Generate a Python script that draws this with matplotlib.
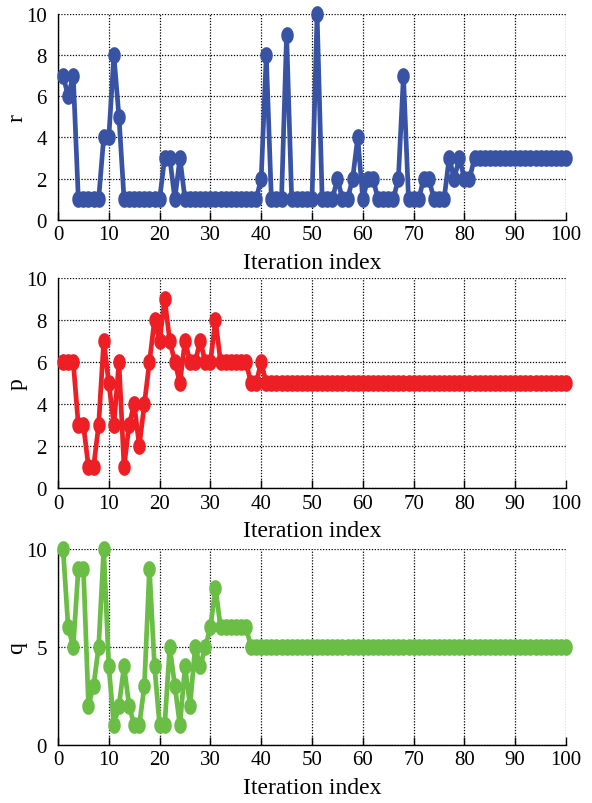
import numpy as np
import matplotlib
matplotlib.use("Agg")
import matplotlib.pyplot as plt
from matplotlib.path import Path

plt.rcParams['font.family'] = ['Liberation Serif', 'DejaVu Serif']
plt.rcParams['mathtext.fontset'] = 'stix'

iterations = list(range(1, 101))

r_values = [7, 6, 7, 1, 1, 1, 1, 1, 4, 4,
            8, 5, 1, 1, 1, 1, 1, 1, 1, 1,
            3, 3, 1, 3, 1, 1, 1, 1, 1, 1,
            1, 1, 1, 1, 1, 1, 1, 1, 1, 2,
            8, 1, 1, 1, 9, 1, 1, 1, 1, 1,
            10, 1, 1, 1, 2, 1, 1, 2, 4, 1,
            2, 2, 1, 1, 1, 1, 2, 7, 1, 1,
            1, 2, 2, 1, 1, 1, 3, 2, 3, 2,
            2] + [3] * 19

p_values = [6, 6, 6, 3, 3, 1, 1, 3, 7, 5,
            3, 6, 1, 3, 4, 2, 4, 6, 8, 7,
            9, 7, 6, 5, 7, 6, 6, 7, 6, 6,
            8, 6, 6, 6, 6, 6, 6, 5, 5, 6] + [5] * 60

q_values = [10, 6, 5, 9, 9, 2, 3, 5, 10, 4,
            1, 2, 4, 2, 1, 1, 3, 9, 4, 1,
            1, 5, 3, 1, 4, 2, 5, 4, 5, 6,
            8, 6, 6, 6, 6, 6, 6] + [5] * 63

series = [
    ("r", r_values, "#3953a4", [0, 2, 4, 6, 8, 10]),
    ("p", p_values, "#ed1f24", [0, 2, 4, 6, 8, 10]),
    ("q", q_values, "#6abd45", [0, 5, 10]),
]
x_ticks = [0, 10, 20, 30, 40, 50, 60, 70, 80, 90, 100]

# vertical ellipse marker
t = np.linspace(0, 2 * np.pi, 60)
ell = Path(np.column_stack([0.75 * np.cos(t), np.sin(t)]), closed=True)

fig = plt.figure(figsize=(5.92, 8.04), dpi=100)
boxes = [
    (58, 15, 566, 220.7),
    (58, 279, 566, 489),
    (58, 550, 566, 745.7),
]
W, H = 592, 804
for (label, vals, color, yt), (x0, y0, x1, y1) in zip(series, boxes):
    ax = fig.add_axes([x0 / W, 1 - y1 / H, (x1 - x0) / W, (y1 - y0) / H])
    ax.plot(iterations, vals, color=color, lw=3.4, marker=ell,
            markersize=12, markeredgewidth=0, zorder=3, clip_on=False)
    ax.set_xlim(0, 100)
    ax.set_ylim(0, 10)
    ax.set_xticks(x_ticks)
    ax.set_yticks(yt)
    ax.grid(True, linestyle=(0, (1, 1.3)), color='black', lw=0.9)
    ax.set_axisbelow(True)
    ax.spines['top'].set_visible(False)
    ax.spines['right'].set_visible(False)
    ax.spines['left'].set_linewidth(1.0)
    ax.spines['bottom'].set_linewidth(1.0)
    ax.tick_params(axis='x', direction='in', length=6, width=1,
                   labelsize=15, pad=4)
    ax.tick_params(axis='y', direction='in', length=0, width=1,
                   labelsize=15, pad=8)
    ax.set_xlabel("Iteration index", fontsize=17, labelpad=5.5)
    ax.set_ylabel(label, fontsize=17)
    ax.yaxis.set_label_coords(-0.06, 0.5)

fig.savefig("out.png", dpi=100)
